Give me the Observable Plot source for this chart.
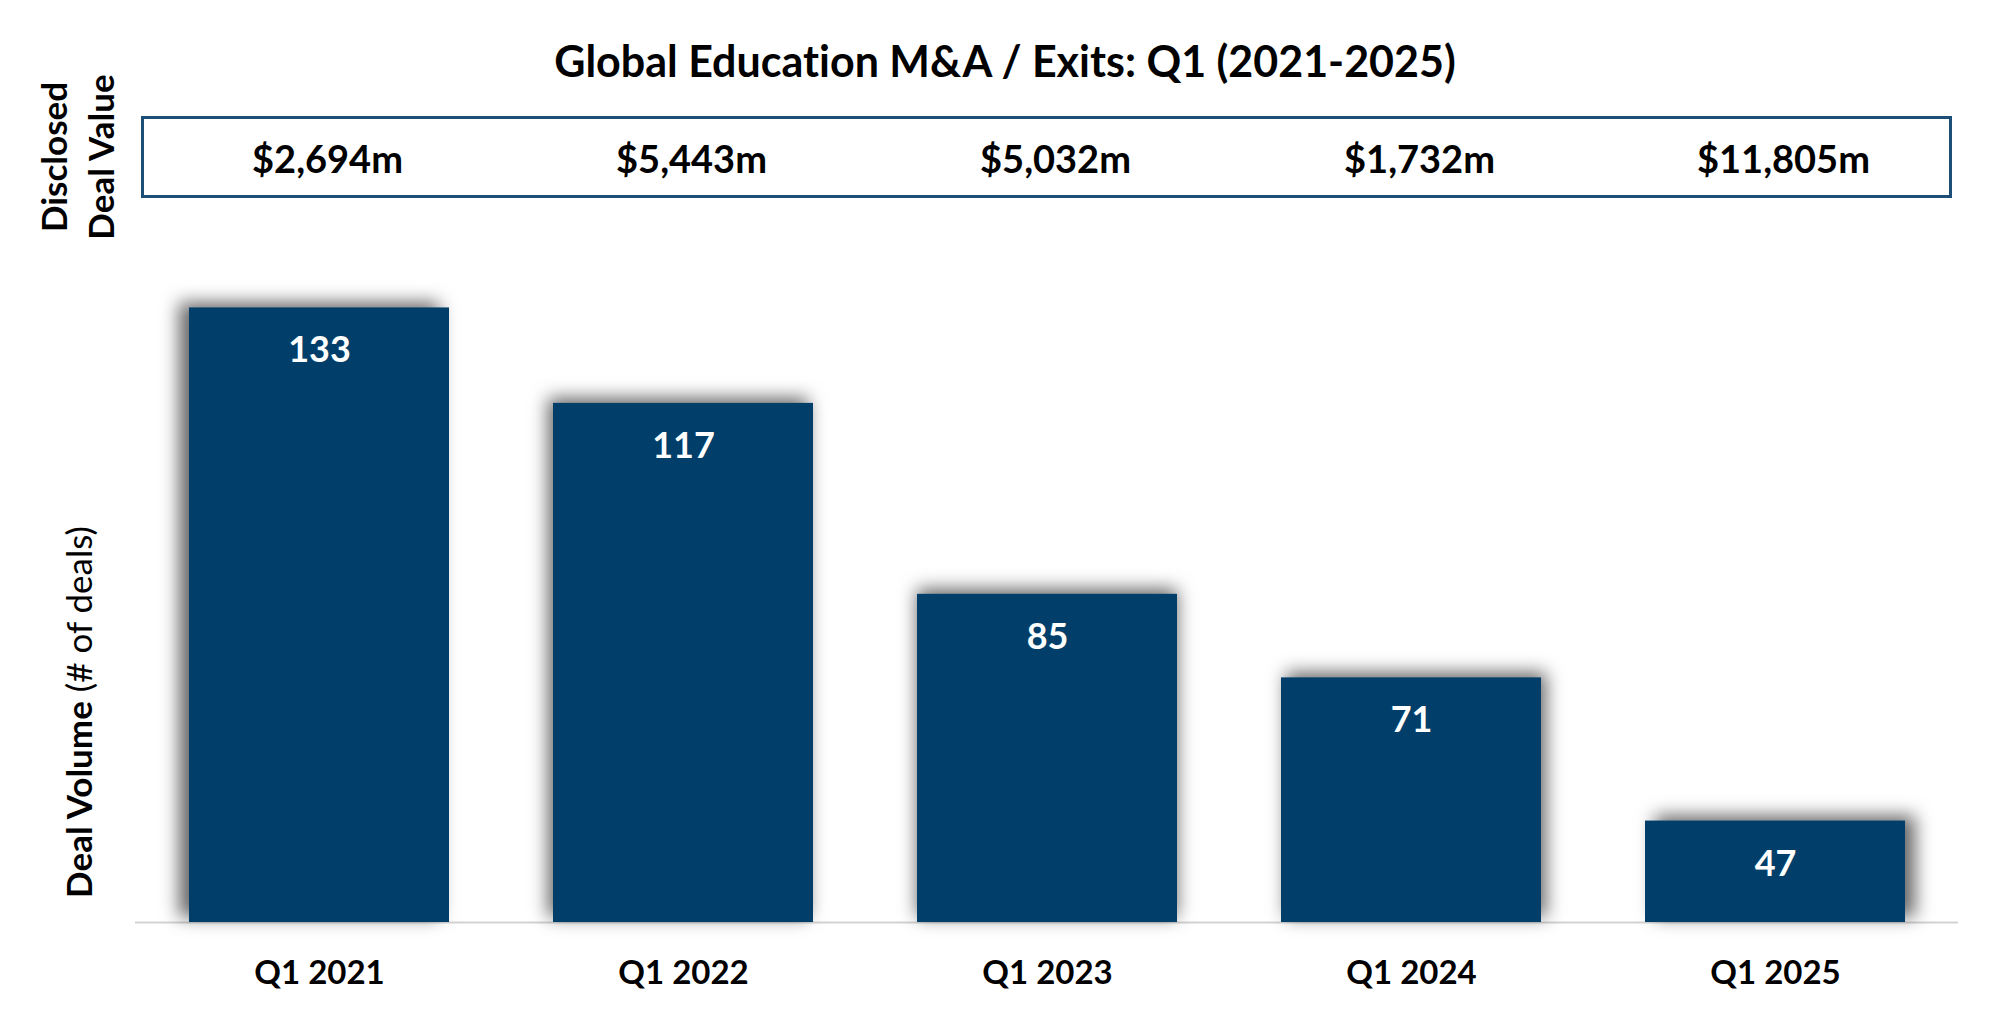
<!DOCTYPE html>
<html>
<head>
<meta charset="utf-8">
<script src="https://cdn.jsdelivr.net/npm/d3@7"></script>
<script src="https://cdn.jsdelivr.net/npm/@observablehq/plot@0.6"></script>
<style>
  html, body { margin: 0; padding: 0; background: #ffffff; }
  #wrap { position: relative; width: 2000px; height: 1019px; overflow: hidden; font-family: Lato, "Open Sans", sans-serif;
          font-variant-ligatures: none; }
  #title { position: absolute; left: 1005px; top: 60px; transform: translate(-50%, -50%); white-space: nowrap;
           font-size: 43px; font-weight: 700; color: #000; }
  #box { position: absolute; left: 141px; top: 116px; width: 1811px; height: 82px; box-sizing: border-box;
         border: 3px solid #1d4e77; z-index: 2; }
  #dvlabel { position: absolute; left: 77px; top: 157px; transform: translate(-50%, -50%) rotate(-90deg);
             text-align: center; white-space: nowrap; font-size: 35px; font-weight: 700; line-height: 47px; color: #000; }
  #ylabel { position: absolute; left: 78px; top: 712px; transform: translate(-50%, -50%) rotate(-90deg);
            white-space: nowrap; font-size: 35px; color: #000; }
  #ylabel b { font-weight: 700; }
  #ylabel span { font-weight: 400; }
  #chart { position: absolute; left: 0; top: 0; z-index: 1; }
  #chart svg text { font-variant-ligatures: none; }
</style>
</head>
<body>
<div id="wrap">
  <div id="title">Global Education M&amp;A / Exits: Q1 (2021-2025)</div>
  <div id="box"></div>
  <div id="dvlabel">Disclosed<br>Deal Value</div>
  <div id="ylabel"><b>Deal Volume</b><span> (# of deals)</span></div>
  <div id="chart"></div>
</div>
<script>
// ---- data ----
const quarters = ["Q1 2021", "Q1 2022", "Q1 2023", "Q1 2024", "Q1 2025"];
const dealCounts = [133, 117, 85, 71, 47];
const dealValues = [2694, 5443, 5032, 1732, 11805]; // $m, disclosed deal value

const data = quarters.map((q, i) => ({quarter: q, deals: dealCounts[i], value: dealValues[i]}));
const fmtValue = v => "$" + d3.format(",")(v) + "m";

const yBase = 30;

const chart = Plot.plot({
  width: 2000,
  height: 1019,
  marginLeft: 135,
  marginRight: 42,
  marginTop: 206,
  marginBottom: 97,
  style: {background: "transparent", fontFamily: "Lato, 'Open Sans', sans-serif", overflow: "visible"},
  x: {type: "band", domain: quarters, paddingInner: 0.286, paddingOuter: 0.145, axis: null},
  y: {domain: [yBase, 150], axis: null},
  marks: [
    Plot.ruleY([yBase], {stroke: "#d3d3d3", strokeWidth: 2.2}),
    Plot.barY(data, {x: "quarter", y1: yBase, y2: "deals", fill: "#013f6a"}),
    Plot.text(data, {x: "quarter", y: "deals", text: d => String(d.deals), dy: 43,
      fill: "#ffffff", fontSize: 36, fontWeight: 700}),
    Plot.text(quarters, {x: d => d, text: d => d, frameAnchor: "bottom", dy: 61,
      fill: "#000000", fontSize: 33, fontWeight: 700}),
    Plot.text(data, {x: "quarter", text: d => fmtValue(d.value), frameAnchor: "top", dy: -60, dx: 8,
      fill: "#000000", fontSize: 38, fontWeight: 700})
  ]
});

// perspective-like soft shadow behind each bar
d3.select(chart).selectAll('g[aria-label="bar"] rect').each(function(d, i) {
  const off = (i - 2) * 5;
  this.style.filter = `drop-shadow(${off}px -5px 9px rgba(0,0,0,0.6))`;
});

document.getElementById("chart").appendChild(chart);
</script>
</body>
</html>
